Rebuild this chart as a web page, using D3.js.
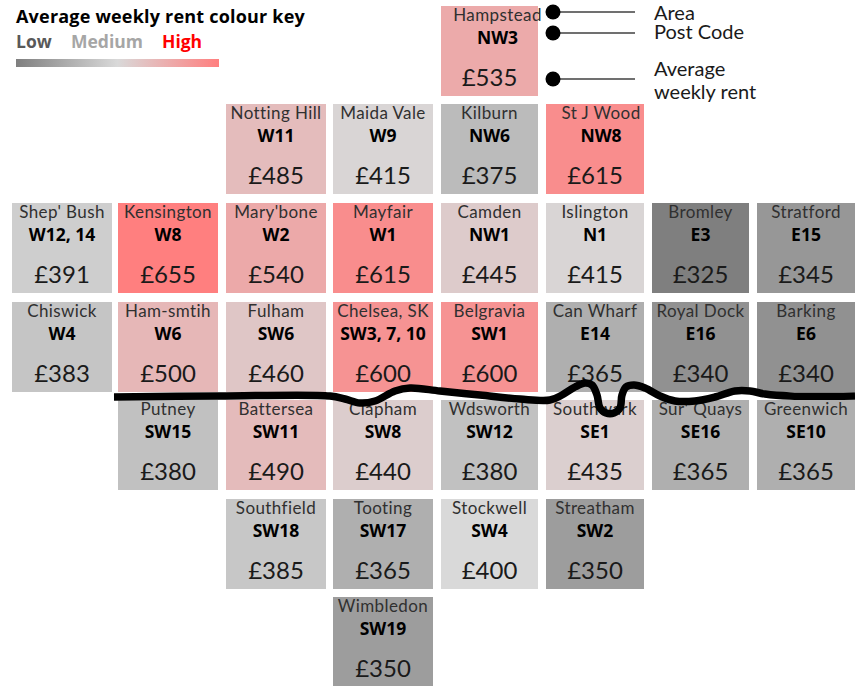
<!DOCTYPE html>
<html><head><meta charset="utf-8">
<style>html,body{margin:0;background:#fff}svg{display:block}text{font-family:Lato,"Open Sans",sans-serif}.b{font-family:"Open Sans",Lato,sans-serif}</style>
<script src="https://cdn.jsdelivr.net/npm/d3@7/dist/d3.min.js"></script></head><body>
<svg id="c" width="859" height="686"></svg>
<script>
// data: one row per tile row; empty string = no tile
const colKeys=[0,1,2,3,4,5,6,7];
const rowKeys=[0,1,2,3,4,5,6];
const areas=[
["","","","","Hampstead","","",""],
["","","Notting Hill","Maida Vale","Kilburn","St J Wood","",""],
["Shep' Bush","Kensington","Mary'bone","Mayfair","Camden","Islington","Bromley","Stratford"],
["Chiswick","Ham-smtih","Fulham","Chelsea, SK","Belgravia","Can Wharf","Royal Dock","Barking"],
["","Putney","Battersea","Clapham","Wdsworth","Southwark","Sur' Quays","Greenwich"],
["","","Southfield","Tooting","Stockwell","Streatham","",""],
["","","","Wimbledon","","","",""]];
const codes=[
["","","","","NW3","","",""],
["","","W11","W9","NW6","NW8","",""],
["W12, 14","W8","W2","W1","NW1","N1","E3","E15"],
["W4","W6","SW6","SW3, 7, 10","SW1","E14","E16","E6"],
["","SW15","SW11","SW8","SW12","SE1","SE16","SE10"],
["","","SW18","SW17","SW4","SW2","",""],
["","","","SW19","","","",""]];
const rents=[
[0,0,0,0,535,0,0,0],
[0,0,485,415,375,615,0,0],
[391,655,540,615,445,415,325,345],
[383,500,460,600,600,365,340,340],
[0,380,490,440,380,435,365,365],
[0,0,385,365,400,350,0,0],
[0,0,0,350,0,0,0,0]];
const riverX=[114,220,330,345,360,375,395,410,440,480,520,550,562,575,585,592,597,600,606,614,620,622,626,634,645,660,675,695,715,735,750,765,790,855];
const riverY=[397,396,396,399,403,401,391,388,391,395,399,400,395,387,383,385,395,408,413,413,408,395,387,385,388,396,401,401,397,391,391,394,396,396];
const keyLabels=["Low","Medium","High"];
const keyNotes=["Area","Post Code","Average","weekly rent"];

const colLeft=[12,118,226,333,441,546,652,757], colWidth=[100,100,100,100,97,98,97,98];
const rowTop=[6,104,203,302,400,499,597];
const x=d3.scaleOrdinal(colKeys,colLeft), w=d3.scaleOrdinal(colKeys,colWidth), y=d3.scaleOrdinal(rowKeys,rowTop);
const tileH=90;
const colour=d3.scaleLinear().domain([325,400,420,655]).range(["#7f7f7f","#d9d9d9","#d9d4d4","#ff7f7f"]);
const nudge={ "Hampstead":[8,8],"St J Wood":[6,6] };
const svg=d3.select("#c");
const tiles=[];
rowKeys.forEach(r=>colKeys.forEach(c=>{if(rents[r][c])tiles.push({r,c,a:areas[r][c],p:codes[r][c],v:rents[r][c]})}));
const g=svg.selectAll("g.t").data(tiles).join("g").attr("class","t").attr("transform",d=>`translate(${x(d.c)},${y(d.r)})`);
g.append("rect").attr("width",d=>w(d.c)).attr("height",tileH).attr("fill",d=>colour(d.v));
g.append("text").attr("x",d=>w(d.c)/2+(nudge[d.a]?nudge[d.a][0]:0)).attr("y",15).attr("text-anchor","middle").attr("font-size",17).attr("letter-spacing",0.4).attr("fill","#303030").text(d=>d.a);
g.append("text").attr("class","b").attr("x",d=>w(d.c)/2+(nudge[d.a]?nudge[d.a][1]:0)).attr("y",37.5).attr("text-anchor","middle").attr("font-size",17.5).attr("font-weight",700).attr("fill","#000").text(d=>d.p);
g.append("text").attr("x",d=>w(d.c)/2).attr("y",80).attr("text-anchor","middle").attr("font-size",24).attr("fill","#1a1a1a").text(d=>"£"+d.v);

svg.append("path").attr("d",d3.line().x(d=>d[0]).y(d=>d[1]).curve(d3.curveCatmullRom)(riverX.map((v,i)=>[v,riverY[i]]))).attr("fill","none").attr("stroke","#000").attr("stroke-width",7.5).attr("stroke-linejoin","round");

// colour key
svg.append("text").attr("class","b").attr("x",16).attr("y",23).attr("font-size",18).attr("font-weight",700).attr("letter-spacing",0.2).attr("fill","#000").text("Average weekly rent colour key");
const grad=svg.append("defs").append("linearGradient").attr("id","k");
[["0%","#7f7f7f"],["50%","#d9d9d9"],["100%","#ff7f7f"]].forEach(s=>grad.append("stop").attr("offset",s[0]).attr("stop-color",s[1]));
svg.append("rect").attr("x",16).attr("y",59).attr("width",203).attr("height",8).attr("fill","url(#k)");
const keyX=[16,71,162], keyC=["#595959","#a6a6a6","#ff0000"];
svg.selectAll("text.kl").data(keyLabels).join("text").attr("class","kl b").attr("x",(d,i)=>keyX[i]).attr("y",48).attr("font-size",17.5).attr("font-weight",700).attr("fill",(d,i)=>keyC[i]).text(d=>d);

// annotation
const noteY=[12,33,79];
svg.selectAll("line.n").data(noteY).join("line").attr("class","n").attr("x1",553).attr("x2",635).attr("y1",d=>d).attr("y2",d=>d).attr("stroke","#404040").attr("stroke-width",1.5);
svg.selectAll("circle.n").data(noteY).join("circle").attr("class","n").attr("cx",553).attr("cy",d=>d).attr("r",7.5).attr("fill","#000");
const noteTextY=[20,39,76,99];
svg.selectAll("text.n").data(keyNotes).join("text").attr("class","n").attr("x",654).attr("y",(d,i)=>noteTextY[i]).attr("font-size",20).attr("fill","#1a1a1a").text(d=>d);
</script></body></html>
